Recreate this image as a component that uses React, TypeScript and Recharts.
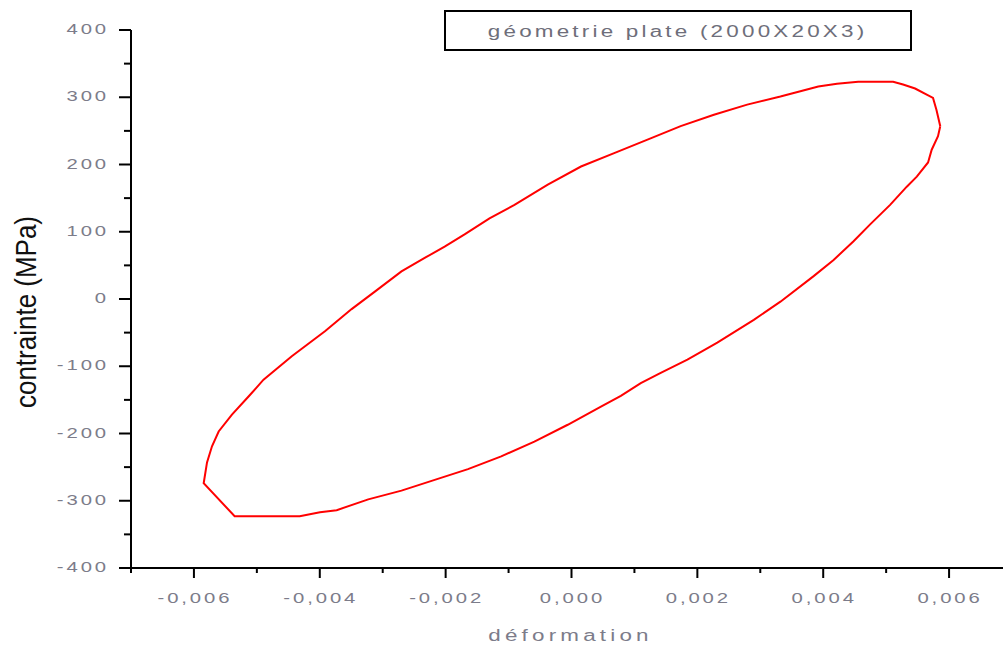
import { LineChart, Line, XAxis, YAxis, Legend } from 'recharts'

// loop, starting at the right tip
const strain = [
  0.00586, 0.0058, 0.005745, 0.005645, 0.00546, 0.005269, 0.005111, 0.004556, 0.004219, 0.003922,
  0.003637, 0.00332, 0.002792, 0.002263, 0.001735, 0.001208, 0.000678, 0.000151, -0.000377, -0.000906,
  -0.001303, -0.001699, -0.002016, -0.002333, -0.002702, -0.003125, -0.003494, -0.003918, -0.004445, -0.004894,
  -0.005132, -0.005396, -0.005607, -0.005713, -0.005792, -0.005845, -0.005353, -0.004319, -0.003997, -0.003732,
  -0.00323, -0.002702, -0.002174, -0.001645, -0.001117, -0.00059, -0.00006, 0.000468, 0.000784, 0.001101,
  0.001418, 0.001842, 0.002317, 0.002897, 0.00332, 0.003848, 0.004165, 0.004482, 0.004746, 0.005063,
  0.005328, 0.005487, 0.005666, 0.005724, 0.005824, 0.00586,
]
const stress = [
  257, 281, 299, 304, 313, 319, 323, 323, 320, 316,
  309, 301, 289, 274, 257, 237, 217, 197, 170, 140,
  120, 96, 78, 61, 41, 11, -15, -48, -85, -120,
  -145, -172, -197, -219, -243, -274, -323, -323, -317, -314,
  -298, -285, -269, -253, -234, -212, -187, -160, -144, -125,
  -110, -90, -65, -31, -4, 34, 58, 86, 111, 140,
  167, 182, 203, 222, 242, 257,
]

const xTicks = [-0.007, -0.006, -0.005, -0.004, -0.003, -0.002, -0.001, 0, 0.001, 0.002, 0.003, 0.004, 0.005, 0.006, 0.007]
const yTicks = [-400, -350, -300, -250, -200, -150, -100, -50, 0, 50, 100, 150, 200, 250, 300, 350, 400]

const seriesName = 'géometrie plate (2000X20X3)'

const data = strain.map((x, i) => ({ x, y: stress[i] }))

const FONT = 'Liberation Sans, Arial, sans-serif'
const GREY = '#7c7c8a'
const tickFont = { fontFamily: FONT, fontSize: 14, letterSpacing: 2, fill: GREY }

function XTick({ x, y, payload }: any) {
  const v = payload.value as number
  const major = Math.abs(Math.round(v * 1000)) % 2 === 0
  return (
    <g>
      <line x1={x} y1={y} x2={x} y2={y + (major ? 10 : 5)} stroke="#000" strokeWidth={2} />
      {major && (
        <text transform={`translate(${x + 1}, ${y + 35}) scale(1.45, 1)`} textAnchor="middle" style={tickFont}>
          {v.toFixed(3).replace('.', ',')}
        </text>
      )}
    </g>
  )
}

function YTick({ x, y, payload }: any) {
  const v = payload.value as number
  const major = v % 100 === 0
  return (
    <g>
      <line x1={x - (major ? 12 : 7)} y1={y} x2={x} y2={y} stroke="#000" strokeWidth={2} />
      {major && (
        <text transform={`translate(${x - 22}, ${y + 4}) scale(1.45, 1)`} textAnchor="end" style={tickFont}>
          {v}
        </text>
      )}
    </g>
  )
}

function LegendBox() {
  return (
    <div
      style={{
        boxSizing: 'border-box',
        width: 468,
        height: 41,
        border: '2px solid #000',
        display: 'flex',
        alignItems: 'center',
        justifyContent: 'center',
        background: '#fff',
      }}
    >
      <span
        style={{
          display: 'inline-block',
          fontFamily: FONT,
          fontSize: 16,
          letterSpacing: 2.3,
          color: '#6e6e7a',
          transform: 'scale(1.4, 1)',
          whiteSpace: 'nowrap',
          marginTop: 2,
        }}
      >
        {seriesName}
      </span>
    </div>
  )
}

export default function App() {
  return (
    <div style={{ position: 'absolute', left: 0, top: 0, width: 1003, height: 648, overflow: 'hidden', background: '#fff' }}>
      <LineChart width={1020} height={648} data={data} margin={{ top: 30, right: 8, bottom: 0, left: 0 }}>
        <XAxis
          type="number"
          dataKey="x"
          domain={[-0.007, 0.007]}
          ticks={xTicks}
          interval={0}
          height={80}
          tickSize={0}
          tickMargin={0}
          tickLine={false}
          axisLine={{ stroke: '#000', strokeWidth: 2 }}
          tick={<XTick />}
          label={{
            content: ({ viewBox }: any) => (
              <text
                transform={`translate(${viewBox.x + viewBox.width / 2 - 1}, ${viewBox.y + 73}) scale(1.4, 1)`}
                textAnchor="middle"
                style={{ fontFamily: FONT, fontSize: 16, letterSpacing: 3, fill: GREY }}
              >
                déformation
              </text>
            ),
          }}
        />
        <YAxis
          type="number"
          domain={[-400, 400]}
          ticks={yTicks}
          interval={0}
          width={131}
          tickSize={0}
          tickMargin={0}
          tickLine={false}
          axisLine={{ stroke: '#000', strokeWidth: 2 }}
          tick={<YTick />}
          label={{
            content: ({ viewBox }: any) => (
              <text
                transform={`translate(36, ${viewBox.y + viewBox.height / 2 + 13}) scale(1.15, 1) rotate(-90)`}
                textAnchor="middle"
                style={{ fontFamily: FONT, fontSize: 26, fill: '#111' }}
              >
                contrainte (MPa)
              </text>
            ),
          }}
        />
        <Legend
          layout="horizontal"
          verticalAlign="middle"
          align="center"
          wrapperStyle={{ left: 444, top: 10, width: 468, height: 41 }}
          content={<LegendBox />}
        />
        <Line
          name={seriesName}
          dataKey="y"
          type="linear"
          stroke="#ff0000"
          strokeWidth={2}
          dot={false}
          isAnimationActive={false}
        />
      </LineChart>
    </div>
  )
}
